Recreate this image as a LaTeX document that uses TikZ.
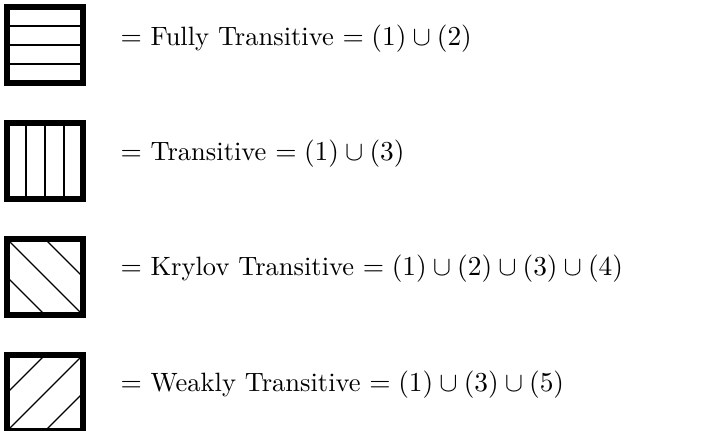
\documentclass[tikz,border=0pt]{standalone}
\usepackage{amsmath,amssymb}
\usetikzlibrary{calc}

\begin{document}
\begin{tikzpicture}[x=0.4pt,y=-0.4pt,
frame/.style={draw,line width=2.4pt,minimum size=30.4pt,inner sep=0pt,outer sep=0pt},
hatch/.style={line width=0.5pt},
label/.style={anchor=base west,inner sep=0pt,font=\fontsize{10.6pt}{13pt}\selectfont}]
\useasboundingbox (0,0) rectangle (704,431);
% the four boxes
\node[frame] (B1) at (45,45) {};
\node[frame] (B2) at (45,161) {};
\node[frame] (B3) at (45,277) {};
\node[frame] (B4) at (45,393) {};
% their texts
\node[label] (T1) at (120,46) {$=$ Fully Transitive $= (1)\cup(2)$};
\node[label] (T2) at (120,161) {$=$ Transitive $= (1)\cup(3)$};
\node[label] (T3) at (120,276) {$=$ Krylov Transitive $= (1)\cup(2)\cup(3)\cup(4)$};
\node[label] (T4) at (120,391) {$=$ Weakly Transitive $= (1)\cup(3)\cup(5)$};
% hatching
\foreach \t in {0.25,0.5,0.75}{
  \draw[hatch] ($(B1.north west)!\t!(B1.south west)$)--($(B1.north east)!\t!(B1.south east)$);
  \draw[hatch] ($(B2.north west)!\t!(B2.north east)$)--($(B2.south west)!\t!(B2.south east)$);
}
\draw[hatch] (B3.north west)--(B3.south east);
\draw[hatch] (B3.north)--(B3.east);
\draw[hatch] (B3.west)--(B3.south);
\draw[hatch] (B4.south west)--(B4.north east);
\draw[hatch] (B4.west)--(B4.north);
\draw[hatch] (B4.south)--(B4.east);
\end{tikzpicture}
\end{document}
